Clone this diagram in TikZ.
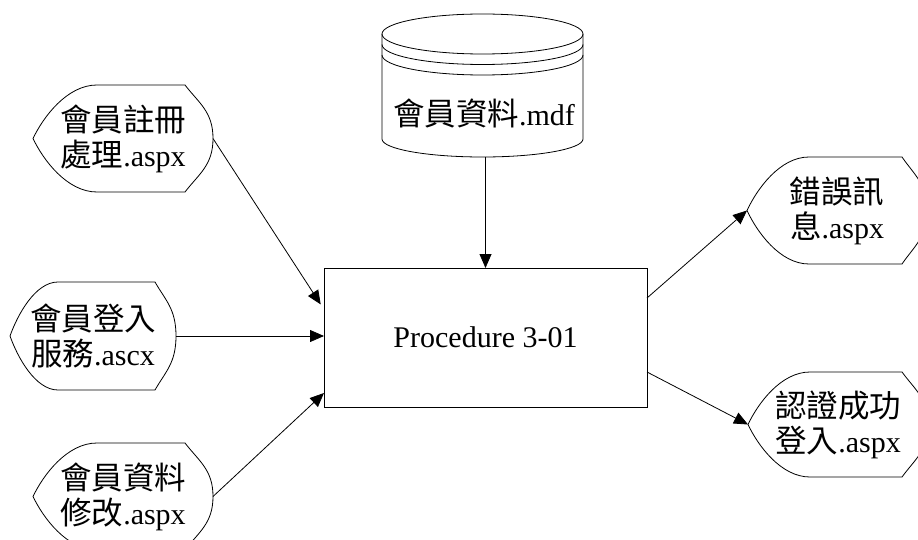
\documentclass[tikz,border=0pt]{standalone}
\usepackage{fontspec}
\setmainfont{Liberation Serif}
\newfontfamily\cjk[Scale=1.05]{Noto Sans CJK TC}
\usetikzlibrary{arrows.meta,calc}

% Outline of a "display" symbol around a node:
% #1 node name, #2 depth of the right bulge, #3 depth of the left point
\newcommand\dispoutline[3]{%
  \draw[outline] let \p1=(#1.north west), \p2=(#1.south east),
      \n1={\y1-\y2}, \n2={(\y1+\y2)/2} in
    (\x1+#3,\y1) -- (\x2-#2,\y1)
    .. controls (\x2-0.5*#2,\y1-0.17*\n1) and (\x2,\n2+0.25*\n1) .. (\x2,\n2)
    .. controls (\x2,\n2-0.25*\n1) and (\x2-0.5*#2,\y2+0.17*\n1) .. (\x2-#2,\y2)
    -- (\x1+#3,\y2)
    .. controls (\x1+0.53*#3,\y2) and (\x1+0.16*#3,\n2-0.2*\n1) .. (\x1,\n2)
    .. controls (\x1+0.16*#3,\n2+0.2*\n1) and (\x1+0.53*#3,\y1) .. (\x1+#3,\y1)
    -- cycle;}

\begin{document}
\begin{tikzpicture}[x=1pt,y=-1pt,
  outline/.style={draw=black,line width=0.8pt},
  txt/.style={font=\fontsize{30}{35}\selectfont,align=center,inner sep=0pt,outer sep=0pt},
  dispnode/.style={txt},
  arr/.style={line width=0.8pt,-{Triangle[length=14pt,width=12pt]}}]

\useasboundingbox (0,0) rectangle (918,540);
\clip (0,0) rectangle (918,540);
\fill[white] (0,0) rectangle (918,540);

% database cylinder
\node[minimum width=201pt,minimum height=143pt,inner sep=0pt,outer sep=0pt] (db) at (482.5,85.5) {};
\draw[outline,fill=white] ([yshift=-20pt]db.north west) -- ([yshift=18pt]db.south west)
  arc[start angle=180,end angle=360,x radius=100.5pt,y radius=18pt]
  -- ([yshift=-20pt]db.north east);
\draw[outline] ([yshift=-20pt]db.north) ellipse [x radius=100.5pt,y radius=20pt];
\draw[outline] ([yshift=-30.5pt]db.north west)
  arc[start angle=180,end angle=360,x radius=100.5pt,y radius=20pt];
\draw[outline] ([yshift=-41pt]db.north west)
  arc[start angle=180,end angle=360,x radius=100.5pt,y radius=20pt];
\node[txt] (dbtext) at (484,113) {{\cjk 會員資料}.mdf};

% central procedure
\node[txt,draw,line width=0.8pt,minimum width=323pt,minimum height=139pt] (proc)
  at (485.5,337.5) {Procedure 3-01};

% input pages
\node[dispnode,minimum width=180pt,minimum height=107pt] (reg) at (123,138.5)
  {{\cjk 會員註冊}\\{\cjk 處理}.aspx};
\node[dispnode,minimum width=166pt,minimum height=108pt] (login) at (93,336)
  {{\cjk 會員登入}\\{\cjk 服務}.ascx};
\node[dispnode,minimum width=180pt,minimum height=107pt] (mod) at (123,496.5)
  {{\cjk 會員資料}\\{\cjk 修改}.aspx};

% output pages
\node[dispnode,minimum width=180pt,minimum height=107pt] (err) at (837,210.5)
  {{\cjk 錯誤訊}\\{\cjk 息}.aspx};
\node[dispnode,minimum width=180pt,minimum height=105pt] (ok) at (838,424.5)
  {{\cjk 認證成功}\\{\cjk 登入}.aspx};

\dispoutline{reg}{28pt}{64pt}
\dispoutline{login}{21pt}{48pt}
\dispoutline{mod}{28pt}{64pt}
\dispoutline{err}{25pt}{62pt}
\dispoutline{ok}{26pt}{62pt}

% connectors
\draw[arr] (db.south -| proc.north) -- (proc.north);
\draw[arr,shorten >=6pt] (reg.east) -- ([yshift=28pt]proc.west);
\draw[arr] (login.east) -- (login.east -| proc.west);
\draw[arr] (mod.east) -- ([yshift=-55.5pt]proc.west);
\draw[arr] ([yshift=39.5pt]proc.east) -- (err.west);
\draw[arr] ([yshift=-34.5pt]proc.east) -- (ok.west);
\end{tikzpicture}
\end{document}
